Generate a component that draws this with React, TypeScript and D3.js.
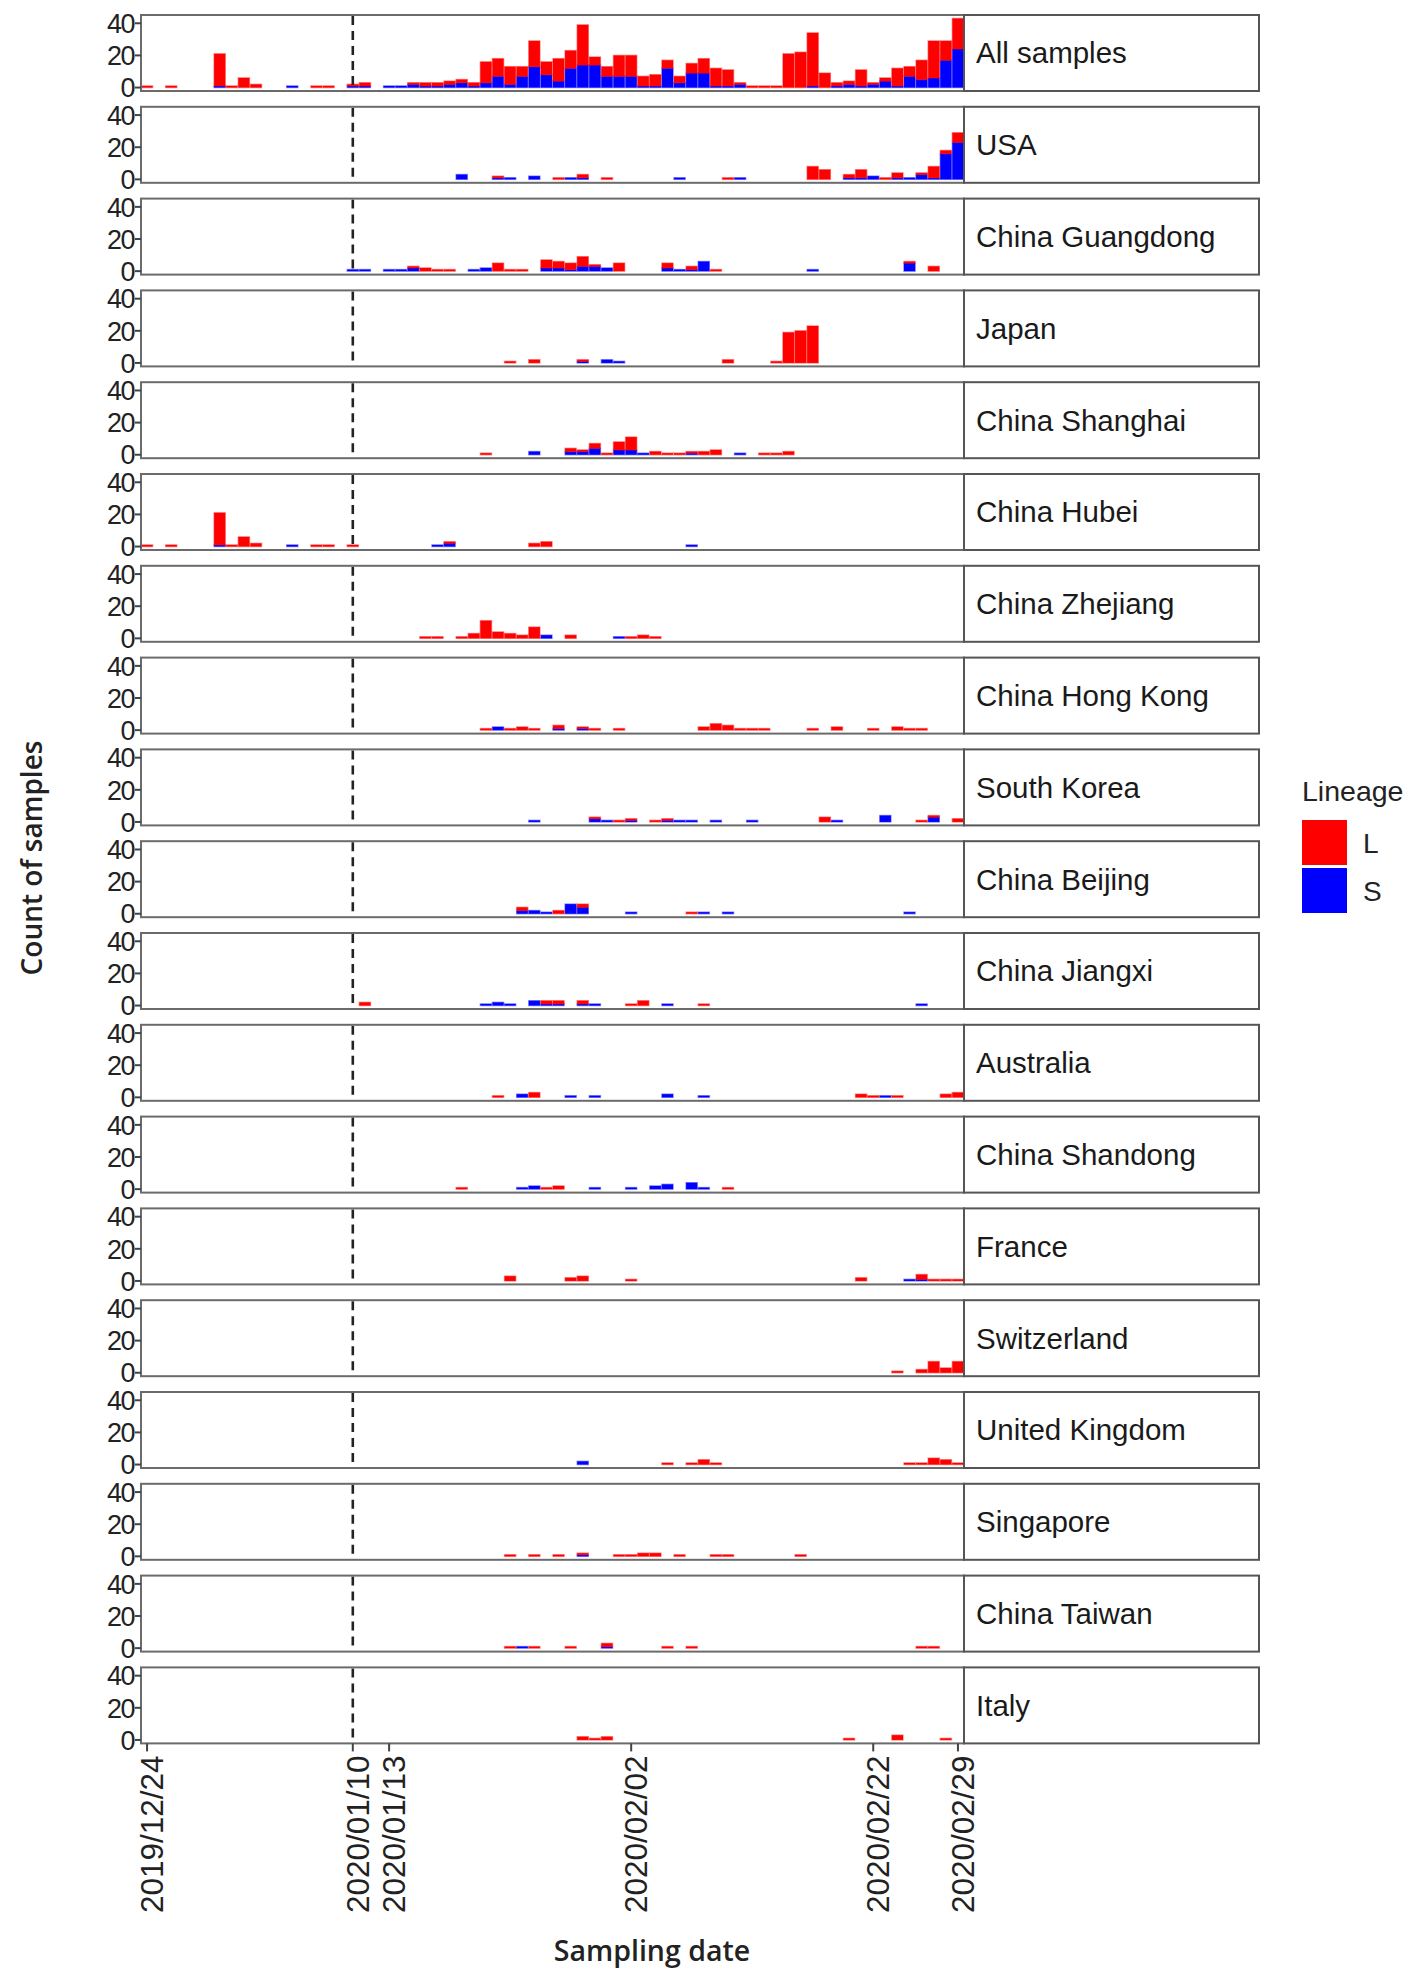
import * as d3 from "d3";

// counts per sampling date: [MM/DD, L, S]  (12/xx = 2019, the rest 2020)
type Row = [string, number, number];

const allSamples: Row[] = [
  ["12/24", 1, 0], ["12/26", 1, 0], ["12/30", 20, 1], ["12/31", 1, 0], ["01/01", 6, 0], ["01/02", 2, 0],
  ["01/05", 0, 1], ["01/07", 1, 0], ["01/08", 1, 0], ["01/10", 1, 1], ["01/11", 2, 1], ["01/13", 0, 1],
  ["01/14", 0, 1], ["01/15", 1, 2], ["01/16", 2, 1], ["01/17", 2, 1], ["01/18", 2, 2], ["01/19", 2, 3],
  ["01/20", 2, 1], ["01/21", 13, 3], ["01/22", 11, 7], ["01/23", 11, 2], ["01/24", 6, 7], ["01/25", 16, 13],
  ["01/26", 8, 8], ["01/27", 14, 4], ["01/28", 11, 12], ["01/29", 25, 14], ["01/30", 5, 14], ["01/31", 6, 7],
  ["02/01", 13, 7], ["02/02", 13, 7], ["02/03", 6, 1], ["02/04", 7, 1], ["02/05", 5, 12], ["02/06", 4, 3],
  ["02/07", 6, 9], ["02/08", 9, 9], ["02/09", 11, 1], ["02/10", 10, 1], ["02/11", 1, 2], ["02/12", 1, 0],
  ["02/13", 1, 0], ["02/14", 1, 0], ["02/15", 21, 0], ["02/16", 22, 0], ["02/17", 33, 1], ["02/18", 9, 0],
  ["02/19", 2, 1], ["02/20", 2, 2], ["02/21", 10, 1], ["02/22", 1, 2], ["02/23", 2, 4], ["02/24", 11, 1],
  ["02/25", 6, 7], ["02/26", 12, 5], ["02/27", 23, 6], ["02/28", 12, 17], ["02/29", 19, 24],
];

const usa: Row[] = [
  ["01/19", 0, 3], ["01/22", 1, 1], ["01/23", 0, 1], ["01/25", 0, 2], ["01/27", 1, 0], ["01/28", 0, 1],
  ["01/29", 2, 1], ["01/31", 1, 0], ["02/06", 0, 1], ["02/10", 1, 0], ["02/11", 0, 1], ["02/17", 8, 0],
  ["02/18", 6, 0], ["02/20", 2, 1], ["02/21", 5, 1], ["02/22", 0, 2], ["02/23", 1, 0], ["02/24", 3, 1],
  ["02/25", 0, 1], ["02/26", 1, 3], ["02/27", 7, 1], ["02/28", 2, 16], ["02/29", 6, 23],
];

const guangdong: Row[] = [
  ["01/10", 0, 1], ["01/11", 0, 1], ["01/13", 0, 1], ["01/14", 0, 1], ["01/15", 1, 2], ["01/16", 2, 0],
  ["01/17", 1, 0], ["01/18", 1, 0], ["01/20", 0, 1], ["01/21", 0, 2], ["01/22", 5, 0], ["01/23", 1, 0],
  ["01/24", 1, 0], ["01/26", 5, 2], ["01/27", 4, 2], ["01/28", 4, 1], ["01/29", 6, 3], ["01/30", 1, 3],
  ["01/31", 0, 2], ["02/01", 5, 0], ["02/05", 3, 2], ["02/06", 0, 1], ["02/07", 2, 1], ["02/08", 0, 6],
  ["02/09", 1, 0], ["02/17", 0, 1], ["02/25", 1, 5], ["02/27", 3, 0],
];

const japan: Row[] = [
  ["01/23", 1, 0], ["01/25", 2, 0], ["01/29", 1, 1], ["01/31", 0, 2], ["02/01", 0, 1], ["02/10", 2, 0],
  ["02/14", 1, 0], ["02/15", 19, 0], ["02/16", 20, 0], ["02/17", 23, 0],
];

const shanghai: Row[] = [
  ["01/21", 1, 0], ["01/25", 0, 2], ["01/28", 2, 2], ["01/29", 1, 2], ["01/30", 3, 4], ["01/31", 1, 0],
  ["02/01", 5, 3], ["02/02", 8, 3], ["02/03", 0, 1], ["02/04", 2, 0], ["02/05", 1, 0], ["02/06", 1, 0],
  ["02/07", 1, 1], ["02/08", 2, 0], ["02/09", 3, 0], ["02/11", 0, 1], ["02/13", 1, 0], ["02/14", 1, 0],
  ["02/15", 2, 0],
];

const hubei: Row[] = [
  ["12/24", 1, 0], ["12/26", 1, 0], ["12/30", 20, 1], ["12/31", 1, 0], ["01/01", 6, 0], ["01/02", 2, 0],
  ["01/05", 0, 1], ["01/07", 1, 0], ["01/08", 1, 0], ["01/10", 1, 0], ["01/17", 0, 1], ["01/18", 1, 2],
  ["01/25", 2, 0], ["01/26", 3, 0], ["02/07", 0, 1],
];

const zhejiang: Row[] = [
  ["01/16", 1, 0], ["01/17", 1, 0], ["01/19", 1, 0], ["01/20", 3, 0], ["01/21", 11, 0], ["01/22", 4, 0],
  ["01/23", 3, 0], ["01/24", 2, 0], ["01/25", 7, 0], ["01/26", 0, 2], ["01/28", 2, 0], ["02/01", 0, 1],
  ["02/02", 1, 0], ["02/03", 2, 0], ["02/04", 1, 0],
];

const hongKong: Row[] = [
  ["01/21", 1, 0], ["01/22", 0, 2], ["01/23", 1, 0], ["01/24", 2, 0], ["01/25", 1, 0], ["01/27", 2, 1],
  ["01/29", 1, 1], ["01/30", 1, 0], ["02/01", 1, 0], ["02/08", 2, 0], ["02/09", 4, 0], ["02/10", 3, 0],
  ["02/11", 1, 0], ["02/12", 1, 0], ["02/13", 1, 0], ["02/17", 1, 0], ["02/19", 2, 0], ["02/22", 1, 0],
  ["02/24", 2, 0], ["02/25", 1, 0], ["02/26", 1, 0],
];

const southKorea: Row[] = [
  ["01/25", 0, 1], ["01/30", 1, 2], ["01/31", 0, 1], ["02/01", 1, 0], ["02/02", 1, 1], ["02/04", 1, 0],
  ["02/05", 1, 1], ["02/06", 0, 1], ["02/07", 0, 1], ["02/09", 0, 1], ["02/12", 0, 1], ["02/18", 3, 0],
  ["02/19", 0, 1], ["02/23", 0, 4], ["02/26", 1, 0], ["02/27", 1, 3], ["02/29", 2, 0],
];

const beijing: Row[] = [
  ["01/24", 2, 2], ["01/25", 0, 2], ["01/26", 0, 1], ["01/27", 2, 0], ["01/28", 0, 6], ["01/29", 2, 4],
  ["02/02", 0, 1], ["02/07", 1, 0], ["02/08", 0, 1], ["02/10", 0, 1], ["02/25", 0, 1],
];

const jiangxi: Row[] = [
  ["01/11", 2, 0], ["01/21", 0, 1], ["01/22", 0, 2], ["01/23", 0, 1], ["01/25", 0, 3], ["01/26", 2, 1],
  ["01/27", 2, 1], ["01/29", 2, 1], ["01/30", 0, 1], ["02/02", 1, 0], ["02/03", 3, 0], ["02/05", 0, 1],
  ["02/08", 1, 0], ["02/26", 0, 1],
];

const australia: Row[] = [
  ["01/22", 1, 0], ["01/24", 0, 2], ["01/25", 3, 0], ["01/28", 0, 1], ["01/30", 0, 1], ["02/05", 0, 2],
  ["02/08", 0, 1], ["02/21", 2, 0], ["02/22", 1, 0], ["02/23", 0, 1], ["02/24", 1, 0], ["02/28", 2, 0],
  ["02/29", 3, 0],
];

const shandong: Row[] = [
  ["01/19", 1, 0], ["01/24", 0, 1], ["01/25", 0, 2], ["01/26", 1, 0], ["01/27", 2, 0], ["01/30", 0, 1],
  ["02/02", 0, 1], ["02/04", 0, 2], ["02/05", 0, 3], ["02/07", 0, 4], ["02/08", 0, 1], ["02/10", 1, 0],
];

const france: Row[] = [
  ["01/23", 3, 0], ["01/28", 2, 0], ["01/29", 3, 0], ["02/02", 1, 0], ["02/21", 2, 0], ["02/25", 0, 1],
  ["02/26", 3, 1], ["02/27", 1, 0], ["02/28", 1, 0], ["02/29", 1, 0],
];

const switzerland: Row[] = [
  ["02/24", 1, 0], ["02/26", 2, 0], ["02/27", 7, 0], ["02/28", 3, 0], ["02/29", 7, 0],
];

const unitedKingdom: Row[] = [
  ["01/29", 0, 2], ["02/05", 1, 0], ["02/07", 1, 0], ["02/08", 3, 0], ["02/09", 1, 0], ["02/25", 1, 0],
  ["02/26", 1, 0], ["02/27", 4, 0], ["02/28", 3, 0], ["02/29", 1, 0],
];

const singapore: Row[] = [
  ["01/23", 1, 0], ["01/25", 1, 0], ["01/27", 1, 0], ["01/29", 1, 1], ["02/01", 1, 0], ["02/02", 1, 0],
  ["02/03", 2, 0], ["02/04", 2, 0], ["02/06", 1, 0], ["02/09", 1, 0], ["02/10", 1, 0], ["02/16", 1, 0],
];

const taiwan: Row[] = [
  ["01/23", 1, 0], ["01/24", 0, 1], ["01/25", 1, 0], ["01/28", 1, 0], ["01/31", 2, 1], ["02/05", 1, 0],
  ["02/07", 1, 0], ["02/26", 1, 0], ["02/27", 1, 0],
];

const italy: Row[] = [
  ["01/29", 2, 0], ["01/30", 1, 0], ["01/31", 2, 0], ["02/20", 1, 0], ["02/24", 3, 0], ["02/28", 1, 0],
];

const regions = [
  "All samples", "USA", "China Guangdong", "Japan", "China Shanghai", "China Hubei", "China Zhejiang",
  "China Hong Kong", "South Korea", "China Beijing", "China Jiangxi", "Australia", "China Shandong",
  "France", "Switzerland", "United Kingdom", "Singapore", "China Taiwan", "Italy",
];
const regionData = [
  allSamples, usa, guangdong, japan, shanghai, hubei, zhejiang, hongKong, southKorea, beijing, jiangxi,
  australia, shandong, france, switzerland, unitedKingdom, singapore, taiwan, italy,
];

const dateTicks = ["2019/12/24", "2020/01/10", "2020/01/13", "2020/02/02", "2020/02/22", "2020/02/29"];
const markerDate = "2020/01/10";
const yTicks = [0, 20, 40];
const lineages = ["L", "S"];
const colors = { L: "#ff0000", S: "#0000ff" };

const toDate = (s: string) => {
  const p = s.split("/").map(Number);
  if (p.length === 3) return new Date(Date.UTC(p[0], p[1] - 1, p[2]));
  return new Date(Date.UTC(p[0] === 12 ? 2019 : 2020, p[0] - 1, p[1]));
};

// layout
const W = 1414, H = 1973;
const left = 141, right = 964, stripRight = 1259;
const top0 = 15, panelH = 76, step = 91.8;

export default function App() {
  const x = d3.scaleUtc()
    .domain([d3.utcHour.offset(toDate("2019/12/24"), -12), d3.utcHour.offset(toDate("2020/02/29"), 12)])
    .range([left, right]);
  const dayW = x(toDate("2020/01/02")) - x(toDate("2020/01/01"));
  const barW = dayW * 0.92;
  const y = d3.scaleLinear().domain([-2.15, 45.15]).range([panelH, 0]);
  const stack = d3.stack<Row>().keys(["S", "L"]).value((d, k) => (k === "S" ? d[2] : d[1]));
  const bottomY = top0 + (regions.length - 1) * step + panelH;
  const font = "'Liberation Sans', Arial, sans-serif";
  const titleFont = "'Open Sans', 'Noto Sans', sans-serif";

  return (
    <svg width={W} height={H} style={{ position: "absolute", left: 0, top: 0, background: "#fff" }}>
      {regions.map((name, i) => {
        const ty = top0 + i * step;
        const series = stack(regionData[i]);
        return (
          <g key={name} transform={`translate(0,${ty})`}>
            <rect x={left} y={0} width={right - left} height={panelH} fill="#fff" />
            {series.map((s) => (
              <g key={s.key} fill={colors[s.key as "L" | "S"]} stroke={colors[s.key as "L" | "S"]}
                strokeWidth={1.4} strokeOpacity={0.45}>
                {s.map((d, j) => (
                  d[1] > d[0] ? (
                    <rect key={j} x={x(toDate(d.data[0])) - barW / 2} y={y(d[1])}
                      width={barW} height={y(d[0]) - y(d[1])} />
                  ) : null
                ))}
              </g>
            ))}
            <line x1={x(toDate(markerDate))} x2={x(toDate(markerDate))} y1={1} y2={panelH - 1}
              stroke="#222" strokeWidth={2.6} strokeDasharray="9,6" />
            <rect x={left} y={0} width={right - left} height={panelH} fill="none" stroke="#6b6b6b" strokeWidth={2} />
            <rect x={right} y={0} width={stripRight - right} height={panelH} fill="#fff" stroke="#555" strokeWidth={2} />
            <text x={right + 12} y={panelH / 2} dy="0.35em" fontFamily={font} fontSize={29.5} fill="#1a1a1a">{name}</text>
            {yTicks.map((t) => (
              <g key={t} transform={`translate(${left},${y(t)})`}>
                <line x1={-6} x2={0} stroke="#444" strokeWidth={2} />
                <text x={-7} dy="0.36em" textAnchor="end" fontFamily={font} fontSize={27} fill="#222"
                  style={{ letterSpacing: "-1.5px" }}>{t}</text>
              </g>
            ))}
          </g>
        );
      })}

      {dateTicks.map((t) => {
        const px = x(toDate(t));
        return (
          <g key={t}>
            <line x1={px} x2={px} y1={bottomY} y2={bottomY + 8} stroke="#444" strokeWidth={2} />
            <text transform={`translate(${px + 16},${bottomY + 12}) rotate(-90)`} textAnchor="end"
              fontFamily={font} fontSize={31.5} fill="#222">{t}</text>
          </g>
        );
      })}

      <text transform="translate(42,858) rotate(-90)" textAnchor="middle" fontFamily={titleFont}
        fontWeight={600} fontSize={28} fill="#222">Count of samples</text>
      <text x={652} y={1961} textAnchor="middle" fontFamily={titleFont} fontWeight={600} fontSize={28.5}
        fill="#222">Sampling date</text>

      <g>
        <text x={1302} y={801} fontFamily={font} fontSize={28.5} fill="#222">Lineage</text>
        {lineages.map((l, i) => (
          <g key={l} transform={`translate(1302,${820 + i * 48})`}>
            <rect width={45} height={45} fill={colors[l as "L" | "S"]} />
            <text x={61} y={23} dy="0.35em" fontFamily={font} fontSize={28} fill="#222">{l}</text>
          </g>
        ))}
      </g>
    </svg>
  );
}
